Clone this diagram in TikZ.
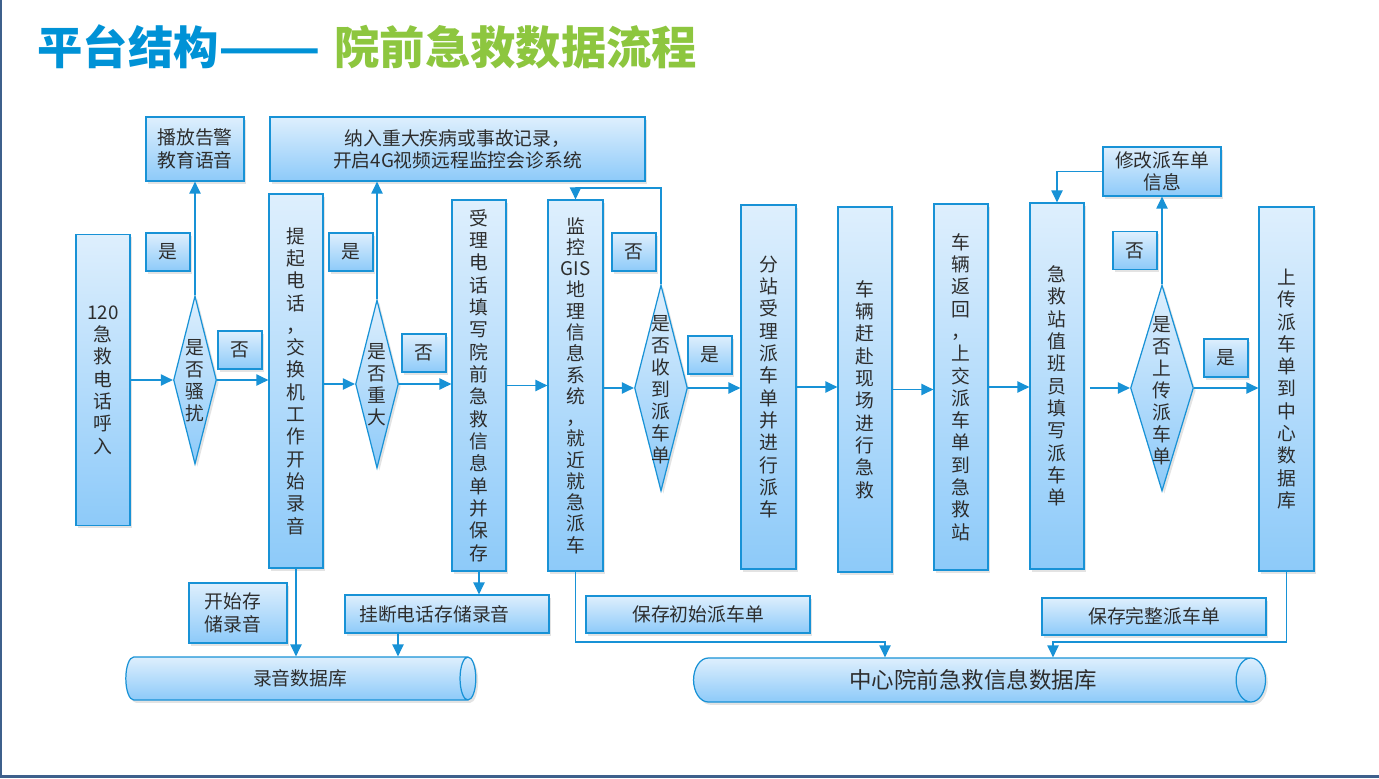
\documentclass[tikz,border=0pt]{standalone}
\usepackage{fontspec}
\setmainfont{Noto Sans CJK SC}
\usetikzlibrary{arrows.meta,shapes.geometric,shadows,calc}
\definecolor{lineblue}{RGB}{24,146,214}
\definecolor{topfill}{RGB}{222,239,253}
\definecolor{botfill}{RGB}{141,202,249}
\definecolor{titleblue}{RGB}{0,146,214}
\definecolor{titlegreen}{RGB}{141,198,63}
\definecolor{txt}{RGB}{45,45,45}
\definecolor{framecol}{RGB}{62,96,140}
\begin{document}
\begin{tikzpicture}[x=0.02cm,y=-0.02cm,
  base/.style={draw=lineblue, line width=0.7pt, top color=topfill, bottom color=botfill,
    text=txt, font=\fontsize{10.7}{12.7}\selectfont, align=center, inner sep=1pt,
    drop shadow={shadow xshift=1.3pt,shadow yshift=-1.6pt,opacity=0.22}},
  sz/.style 2 args={minimum width=#1*0.02cm, minimum height=#2*0.02cm},
  box/.style={base, rectangle},
  tag/.style={base, rectangle, minimum width=0.88cm, minimum height=0.76cm},
  dia/.style={base, diamond, inner sep=0pt},
  dtext/.style={text=txt, font=\fontsize{10.7}{12.5}\selectfont, align=center, inner sep=0pt},
  cyl/.style={base, cylinder, shape border rotate=0},
  arr/.style={draw=lineblue, line width=0.7pt, -{Triangle[length=6.8pt,width=6.4pt]}},
  ln/.style={draw=lineblue, line width=0.7pt}
]
\useasboundingbox (0,0) rectangle (1379,778);
\fill[white] (0,0) rectangle (1379,778);
\fill[framecol] (0,0) rectangle (2.5,778);
\fill[framecol] (0,775) rectangle (1379,778);

% title
\node[anchor=west, inner sep=0pt, text=titleblue, font=\fontsize{25.8}{28}\selectfont\bfseries] (t1) at (37,47) {平台结构\scalebox{1.32}[1]{——}};
\node[anchor=west, inner sep=0pt, text=titlegreen, font=\fontsize{25.8}{28}\selectfont\bfseries] (t2) at (334,47) {院前急救数据流程};

% main column boxes
\node[box, sz={54}{291}] (b1) at (103,380) {120\\急\\救\\电\\话\\呼\\入};
\node[box, sz={54}{374}] (b6) at (296,381) {提\\起\\电\\话\\，\\交\\换\\机\\工\\作\\开\\始\\录\\音};
\node[box, sz={54}{371}] (b11) at (479,385.5) {受\\理\\电\\话\\填\\写\\院\\前\\急\\救\\信\\息\\单\\并\\保\\存};
\node[box, sz={55}{371}, font=\fontsize{10.7}{12.1}\selectfont, inner sep=0pt] (b12) at (575.5,385.5) {监\\控\\GIS\\地\\理\\信\\息\\系\\统\\，\\就\\近\\就\\急\\派\\车};
\node[box, sz={55}{364}] (b17) at (768.5,387) {分\\站\\受\\理\\派\\车\\单\\并\\进\\行\\派\\车};
\node[box, sz={54}{365}] (b18) at (865,389.5) {车\\辆\\赶\\赴\\现\\场\\进\\行\\急\\救};
\node[box, sz={54}{366}] (b19) at (961,387) {车\\辆\\返\\回\\，\\上\\交\\派\\车\\单\\到\\急\\救\\站};
\node[box, sz={54}{366}] (b20) at (1057,386) {急\\救\\站\\值\\班\\员\\填\\写\\派\\车\\单};
\node[box, sz={55}{364}] (b25) at (1286.5,389) {上\\传\\派\\车\\单\\到\\中\\心\\数\\据\\库};

% diamonds
\node[dia, sz={43}{168}] (d1) at (195,380) {};
\node[dtext] (d1t) at (195,381) {是\\否\\骚\\扰};
\node[dia, sz={43}{168}] (d2) at (377,384) {};
\node[dtext] (d2t) at (377,385) {是\\否\\重\\大};
\node[dia, sz={53}{206}] (d3) at (661,388) {};
\node[dtext] (d3t) at (661,390) {是\\否\\收\\到\\派\\车\\单};
\node[dia, sz={63}{206}] (d4) at (1162,388) {};
\node[dtext] (d4t) at (1162,391) {是\\否\\上\\传\\派\\车\\单};

% upper boxes
\node[box, sz={98}{64}] (b3) at (195,149) {播放告警\\教育语音};
\node[box, sz={375}{64}] (b10) at (457.5,149) {纳入重大疾病或事故记录，\\开启4G视频远程监控会诊系统};
\node[box, sz={118}{49}] (mod) at (1162,171.5) {修改派车单\\信息};

% yes / no tags
\node[tag] (y1) at (168,252) {是};
\node[tag] (n1) at (240,350) {否};
\node[tag] (y2) at (351,252) {是};
\node[tag] (n2) at (424,353) {否};
\node[tag] (n3) at (634,252) {否};
\node[tag] (y3) at (710,355) {是};
\node[tag] (n4) at (1135,250.5) {否};
\node[tag] (y4) at (1226,358) {是};

% lower boxes
\node[box, sz={98}{60}] (b27) at (238,613) {开始存\hspace*{0.2cm}\\储录音\hspace*{0.2cm}};
\node[box, sz={204}{38}] (b28) at (447,614) {挂断电话存储录音\hspace*{0.5cm}};
\node[box, sz={224}{37}] (b33) at (698,614.5) {保存初始派车单};
\node[box, sz={224}{37}] (b34) at (1154,616.5) {保存完整派车单};

% databases (cylinder: width = diameter, height = length)
\node[cyl, sz={43}{350}, aspect=0.75] (cyl1) at (295,678.5) {\hspace*{0.2cm}录音数据库};
\node[cyl, sz={44}{572}, aspect=1.2, font=\fontsize{12.8}{14}\selectfont] (cyl2) at (969,680) {\hspace*{0.16cm}中心院前急救信息数据库};

% connectors: main flow
\draw[arr] (b1.east) -- (d1.west);
\draw[arr] (d1.east) -- (d1.east -| b6.west);
\draw[arr] (d2.west -| b6.east) -- (d2.west);
\draw[arr] (d2.east) -- (d2.east -| b11.west);
\draw[arr] (b11.east) -- (b11.east -| b12.west);
\draw[arr] (d3.west -| b12.east) -- (d3.west);
\draw[arr] (d3.east) -- (d3.east -| b17.west);
\draw[arr] (b17.east) -- (b17.east -| b18.west);
\draw[arr] (b18.east) -- (b18.east -| b19.west);
\draw[arr] (b19.east) -- (b19.east -| b20.west);
\draw[arr, shorten <=3pt] (d4.west -| b20.east) -- (d4.west);
\draw[arr] (d4.east) -- (d4.east -| b25.west);

% connectors: upward branches
\draw[arr] (d1.north) -- (b3.south);
\draw[arr] (d2.north) -- (d2.north |- b10.south);
\draw[arr] (d4.north) -- (mod.south);
\coordinate (fb) at (575.5,188);
\draw[arr] (d3.north) |- (fb) -- (b12.north);
\draw[arr] (mod.west) -| (b20.north);

% connectors: storage
\draw[arr] (b6.south) -- (b6.south |- cyl1.north);
\draw[arr] (b11.south) -- (b11.south |- b28.north);
\coordinate (h1) at ($(b28.south)+(-49,0)$);
\draw[arr] (h1) -- (h1 |- cyl1.north);
\coordinate (c1) at (885,642);
\draw[arr] (b12.south) |- (c1) -- (c1 |- cyl2.north);
\coordinate (c2) at (1053,642);
\draw[arr] (b25.south) |- (c2) -- (c2 |- cyl2.north);
\end{tikzpicture}
\end{document}
